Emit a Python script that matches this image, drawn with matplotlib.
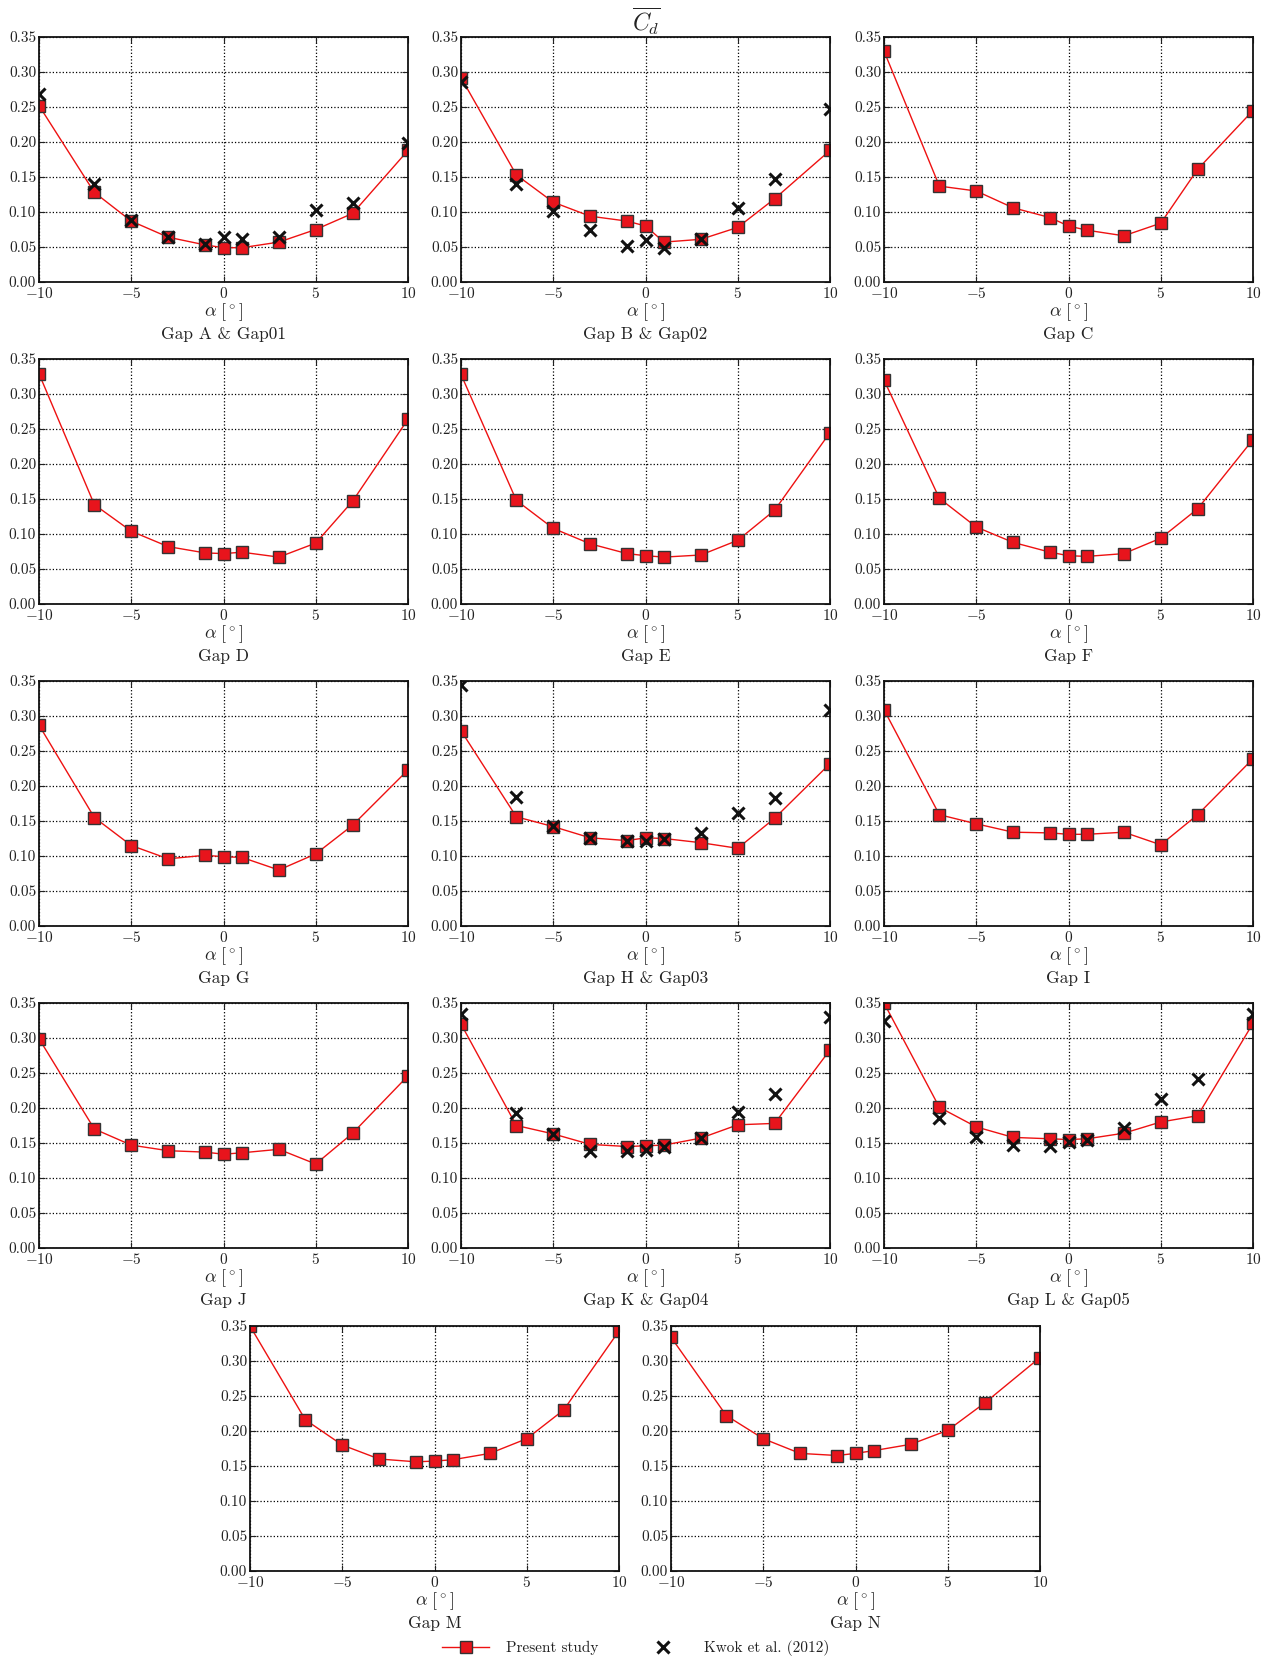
import matplotlib
matplotlib.use("Agg")
import matplotlib.pyplot as plt

plt.rcParams['font.family'] = ['cmr10', 'DejaVu Serif']
plt.rcParams['mathtext.fontset'] = 'cm'
plt.rcParams['axes.formatter.use_mathtext'] = True
plt.rcParams['axes.unicode_minus'] = True

# angle of attack [deg]
alpha = [-10, -7, -5, -3, -1, 0, 1, 3, 5, 7, 10]

# mean drag coefficient, present study
cd_A = [0.252, 0.128, 0.087, 0.064, 0.053, 0.049, 0.049, 0.057, 0.075, 0.098, 0.188]
cd_B = [0.292, 0.153, 0.114, 0.094, 0.087, 0.080, 0.057, 0.061, 0.078, 0.119, 0.188]
cd_C = [0.330, 0.137, 0.130, 0.106, 0.092, 0.080, 0.074, 0.066, 0.084, 0.161, 0.245]
cd_D = [0.329, 0.142, 0.104, 0.082, 0.073, 0.072, 0.074, 0.067, 0.087, 0.147, 0.264]
cd_E = [0.328, 0.148, 0.108, 0.086, 0.072, 0.069, 0.067, 0.070, 0.091, 0.134, 0.245]
cd_F = [0.320, 0.151, 0.110, 0.088, 0.074, 0.069, 0.068, 0.072, 0.094, 0.136, 0.235]
cd_G = [0.287, 0.155, 0.115, 0.096, 0.101, 0.099, 0.098, 0.080, 0.103, 0.144, 0.223]
cd_H = [0.279, 0.156, 0.142, 0.126, 0.122, 0.126, 0.125, 0.119, 0.111, 0.154, 0.232]
cd_I = [0.309, 0.159, 0.146, 0.134, 0.133, 0.131, 0.131, 0.134, 0.116, 0.159, 0.239]
cd_J = [0.299, 0.170, 0.147, 0.139, 0.137, 0.134, 0.136, 0.141, 0.120, 0.164, 0.246]
cd_K = [0.320, 0.175, 0.163, 0.148, 0.145, 0.146, 0.147, 0.157, 0.176, 0.178, 0.283]
cd_L = [0.350, 0.201, 0.173, 0.158, 0.156, 0.155, 0.156, 0.164, 0.180, 0.189, 0.321]
cd_M = [0.350, 0.216, 0.180, 0.160, 0.156, 0.157, 0.159, 0.168, 0.189, 0.230, 0.343]
cd_N = [0.334, 0.222, 0.189, 0.168, 0.165, 0.168, 0.172, 0.181, 0.201, 0.240, 0.305]

# Kwok et al. (2012) measurements
kw_01 = [0.268, 0.140, 0.088, 0.065, 0.054, 0.064, 0.061, 0.065, 0.103, 0.113, 0.199]
kw_02 = [0.286, 0.140, 0.101, 0.074, 0.051, 0.060, 0.048, 0.061, 0.106, 0.147, 0.247]
kw_03 = [0.345, 0.184, 0.143, 0.126, 0.121, 0.121, 0.124, 0.133, 0.161, 0.183, 0.309]
kw_04 = [0.335, 0.193, 0.163, 0.139, 0.139, 0.140, 0.145, 0.157, 0.195, 0.220, 0.330]
kw_05 = [0.325, 0.186, 0.158, 0.147, 0.146, 0.151, 0.155, 0.171, 0.213, 0.242, 0.334]

captions = ["Gap A & Gap01", "Gap B & Gap02", "Gap C",
            "Gap D", "Gap E", "Gap F",
            "Gap G", "Gap H & Gap03", "Gap I",
            "Gap J", "Gap K & Gap04", "Gap L & Gap05",
            "Gap M", "Gap N"]
present = [cd_A, cd_B, cd_C, cd_D, cd_E, cd_F, cd_G,
           cd_H, cd_I, cd_J, cd_K, cd_L, cd_M, cd_N]
kwok = [kw_01, kw_02, None, None, None, None, None,
        kw_03, None, None, kw_04, kw_05, None, None]

W, H = 1271, 1659
fig = plt.figure(figsize=(W / 100, H / 100), dpi=100)

# panel boxes in pixels: left, top
col_left = [39, 461, 884]
row_top = [37, 359, 681, 1003, 1326]
aw, ah = 369, 245
boxes = [(col_left[i % 3], row_top[i // 3]) for i in range(12)]
boxes += [(250, row_top[4]), (671, row_top[4])]

txt = '#222222'
for i, (l, t) in enumerate(boxes):
    ax = fig.add_axes([l / W, 1 - (t + ah) / H, aw / W, ah / H])
    ax.plot(alpha, present[i], '-s', color='#ee1111', lw=1.0, ms=9,
            mfc='#e8141c', mec='#333333', mew=1.0, label='Present study')
    if kwok[i] is not None:
        ax.plot(alpha, kwok[i], 'x', color='#111111', ms=8, mew=2.2,
                ls='none', label='Kwok et al. (2012)')
    ax.set_xlim(-10, 10)
    ax.set_ylim(0, 0.35)
    ax.set_xticks([-10, -5, 0, 5, 10])
    ax.set_yticks([0, 0.05, 0.10, 0.15, 0.20, 0.25, 0.30, 0.35])
    ax.yaxis.set_major_formatter(plt.FormatStrFormatter('%.2f'))
    ax.grid(True, ls=':', color='k', lw=0.9)
    ax.tick_params(direction='in', top=True, right=True, labelsize=11,
                   colors=txt, length=4, pad=3)
    ax.tick_params(axis='y', pad=2)
    for s in ax.spines.values():
        s.set_linewidth(1.3)
        s.set_color('#111111')
    ax.set_xlabel(r'$\alpha\ [^\circ]$', fontsize=13, color=txt, labelpad=0)
    ax.text(0.5, -0.215, captions[i], transform=ax.transAxes, ha='center',
            va='center', fontsize=12.5, color=txt)
    if i == 0:
        handles, labels = ax.get_legend_handles_labels()

fig.text(646 / W, 1 - 21 / H, r'$\overline{C_d}$', ha='center', va='center',
         fontsize=17, color=txt)

fig.legend(handles, labels, loc='center', bbox_to_anchor=(0.5, 1 - 1648 / H),
           ncol=2, frameon=False, fontsize=11, handlelength=3.1,
           handletextpad=1.1, columnspacing=2.7, labelcolor=txt)

fig.savefig('out.png', dpi=100)
